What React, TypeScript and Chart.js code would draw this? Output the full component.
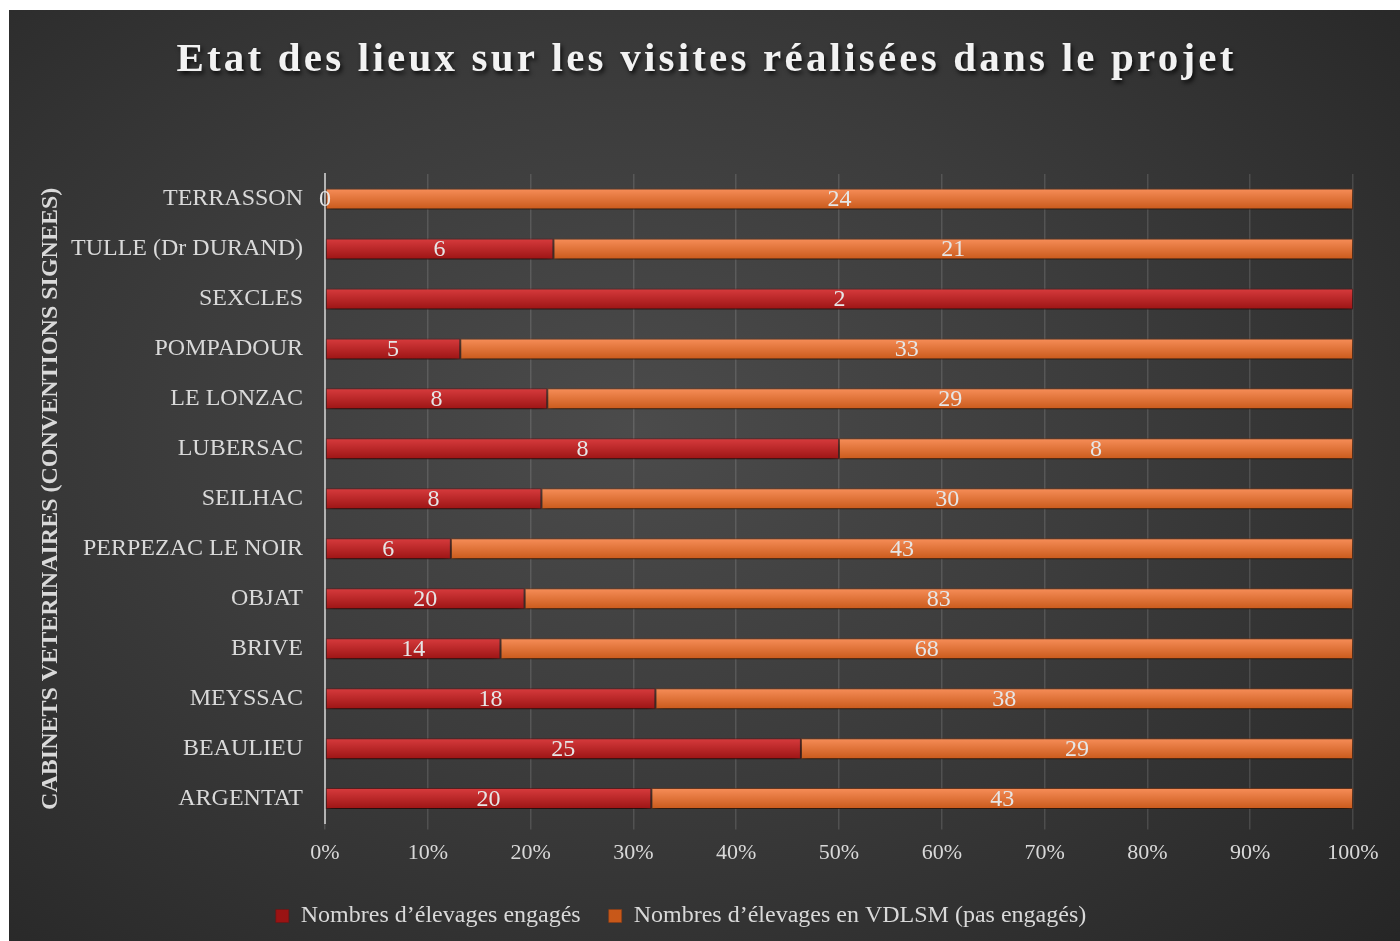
import React, { useEffect, useRef } from "react";
import { Chart, registerables } from "chart.js";

Chart.register(...registerables);

const TITLE = "Etat des lieux sur les visites réalisées dans le projet";
const AXIS_TITLE = "CABINETS VETERINAIRES (CONVENTIONS SIGNEES)";
const categories = [
  "TERRASSON",
  "TULLE (Dr DURAND)",
  "SEXCLES",
  "POMPADOUR",
  "LE LONZAC",
  "LUBERSAC",
  "SEILHAC",
  "PERPEZAC LE NOIR",
  "OBJAT",
  "BRIVE",
  "MEYSSAC",
  "BEAULIEU",
  "ARGENTAT",
];
const engaged: (number | null)[] = [0, 6, 2, 5, 8, 8, 8, 6, 20, 14, 18, 25, 20];
const notEngaged: (number | null)[] = [24, 21, null, 33, 29, 8, 30, 43, 83, 68, 38, 29, 43];
const seriesNames = ["Nombres d’élevages engagés", "Nombres d’élevages en VDLSM (pas engagés)"];
const xTicks = [0, 10, 20, 30, 40, 50, 60, 70, 80, 90, 100];

const FONT = "'Liberation Serif', 'Times New Roman', serif";
const TEXT = "#d9d9d9";

const totals = categories.map((_, i) => (engaged[i] ?? 0) + (notEngaged[i] ?? 0));
const pct = (arr: (number | null)[]) =>
  arr.map((v, i) => (v === null ? null : (v / totals[i]) * 100));

function barGradient(ctx: any, top: string, bottom: string) {
  const chart = ctx.chart;
  const y = chart.scales?.y;
  if (!y || ctx.dataIndex === undefined) return top;
  const c = y.getPixelForValue(ctx.dataIndex);
  if (!isFinite(c)) return top;
  const h = 11;
  const g = chart.ctx.createLinearGradient(0, c - h, 0, c + h);
  g.addColorStop(0, top);
  g.addColorStop(1, bottom);
  return g;
}

const titlePlugin = {
  id: "customTitle",
  afterDraw(chart: any) {
    const ctx = chart.ctx;
    ctx.save();
    ctx.font = `bold 41px ${FONT}`;
    (ctx as any).letterSpacing = "3.2px";
    ctx.fillStyle = "#f2f2f2";
    ctx.textAlign = "center";
    ctx.textBaseline = "alphabetic";
    ctx.shadowColor = "rgba(0,0,0,0.75)";
    ctx.shadowBlur = 4;
    ctx.shadowOffsetX = 2;
    ctx.shadowOffsetY = 3;
    ctx.fillText(TITLE, chart.width / 2 + 2, 61);
    ctx.restore();
  },
};

const shadowPlugin = {
  id: "barShadow",
  beforeDatasetsDraw(chart: any) {
    const ctx = chart.ctx;
    ctx.save();
    ctx.shadowColor = "rgba(0,0,0,0.65)";
    ctx.shadowBlur = 8;
    ctx.shadowOffsetY = 5;
  },
  afterDatasetsDraw(chart: any) {
    chart.ctx.restore();
  },
};

const labelPlugin = {
  id: "valueLabels",
  afterDatasetsDraw(chart: any) {
    const ctx = chart.ctx;
    const raw = [engaged, notEngaged];
    ctx.save();
    ctx.font = `24px ${FONT}`;
    ctx.fillStyle = "#e6e6e6";
    ctx.textAlign = "center";
    ctx.textBaseline = "middle";
    chart.data.datasets.forEach((_: any, di: number) => {
      const meta = chart.getDatasetMeta(di);
      meta.data.forEach((el: any, i: number) => {
        const v = raw[di][i];
        if (v === null || v === undefined) return;
        const cx = (el.x + el.base) / 2;
        ctx.fillText(String(v), cx, el.y + 1);
      });
    });
    ctx.restore();
  },
};

export default function App() {
  const ref = useRef<HTMLCanvasElement | null>(null);

  useEffect(() => {
    if (!ref.current) return;
    Chart.defaults.font.family = FONT;
    const chart = new Chart(ref.current, {
      type: "bar",
      data: {
        labels: categories,
        datasets: [
          {
            label: seriesNames[0],
            data: pct(engaged) as any,
            backgroundColor: (c: any) => barGradient(c, "#d93c3e", "#9a1313"),
            borderColor: "rgba(110,20,20,0.6)",
            borderWidth: 1,
            borderSkipped: false,
            barPercentage: 0.84,
            categoryPercentage: 0.5,
          },
          {
            label: seriesNames[1],
            data: pct(notEngaged) as any,
            backgroundColor: (c: any) => barGradient(c, "#f88f5a", "#c85819"),
            borderColor: "rgba(140,60,20,0.6)",
            borderWidth: 1,
            borderSkipped: false,
            barPercentage: 0.84,
            categoryPercentage: 0.5,
          },
        ],
      },
      options: {
        indexAxis: "y",
        animation: false,
        responsive: true,
        maintainAspectRatio: false,
        layout: { padding: { top: 164, right: 47, left: 0, bottom: 3 } },
        scales: {
          x: {
            stacked: true,
            min: 0,
            max: 100,
            afterBuildTicks: (scale: any) => {
              scale.ticks = xTicks.map((v) => ({ value: v }));
            },
            ticks: {
              color: TEXT,
              font: { size: 22, family: FONT },
              padding: 10,
              callback: (v: any) => `${v}%`,
            },
            grid: {
              color: "rgba(255,255,255,0.13)",
              lineWidth: 1.5,
              drawTicks: true,
              tickLength: 6,
              tickColor: "rgba(255,255,255,0.13)",
            },
            border: { display: false },
          },
          y: {
            stacked: true,
            afterFit: (scale: any) => {
              scale.width = 316;
            },
            ticks: {
              color: TEXT,
              font: { size: 24, family: FONT },
              padding: 22,
            },
            grid: { display: false, drawTicks: false },
            border: { display: true, color: "#b3b3b3", width: 2 },
            title: {
              display: true,
              text: AXIS_TITLE,
              color: TEXT,
              font: { size: 24, weight: "bold", family: FONT },
              padding: { top: 27, bottom: 0 },
            },
          },
        },
        plugins: {
          title: { display: false },
          tooltip: { enabled: false },
          legend: {
            position: "bottom",
            labels: {
              color: TEXT,
              font: { size: 24, family: FONT },
              boxWidth: 13,
              boxHeight: 13,
              padding: 28,
            },
          },
        },
      },
      plugins: [titlePlugin, shadowPlugin, labelPlugin],
    } as any);
    return () => chart.destroy();
  }, []);

  return (
    <div
      style={{
        position: "fixed",
        left: 9,
        top: 10,
        width: 1391,
        height: 931,
        background:
          "radial-gradient(ellipse 75% 80% at 45% 45%, #4b4b4b 0%, #3c3c3c 45%, #262626 100%)",
      }}
    >
      <canvas ref={ref} />
    </div>
  );
}
